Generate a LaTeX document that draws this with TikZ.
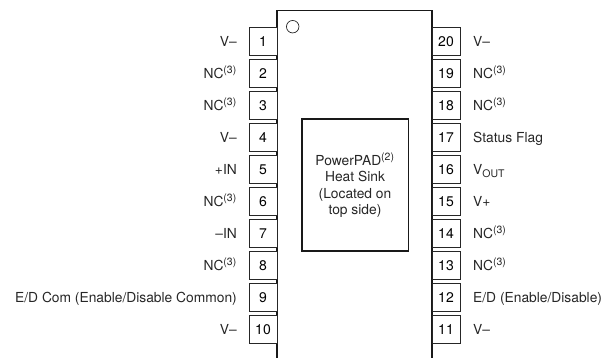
\documentclass[tikz,border=0pt]{standalone}
\usepackage{fontspec}
\setmainfont{TeX Gyre Heros}
\newcommand{\ncsup}{NC\textsuperscript{\fontsize{10.5}{10.5}\selectfont(3)}}
\tikzset{
  x=1pt,y=-1pt,
  pinbox/.style={draw=black!85,line width=0.7pt,minimum width=28pt,minimum height=27.5pt,inner sep=0pt,font=\fontsize{14}{14}\selectfont,fill=white},
  lbl/.style={inner sep=0pt,font=\fontsize{13.8}{13.8}\selectfont,text=black!85},
  thick line/.style={line width=1.5pt,draw=black!90}
}
\begin{document}
\begin{tikzpicture}
\useasboundingbox (0,0) rectangle (613,358);
\draw[thick line] (277,358) -- (277,10.7) -- (432,10.7) -- (432,358);
\node[draw=black!85,line width=0.7pt,circle,minimum size=12.5pt,inner sep=0pt] (dot) at (292.7,26.7) {};
\node[thick line,draw,minimum width=106.5pt,minimum height=131.5pt,inner sep=0pt,align=center,font=\fontsize{13.8}{16.2}\selectfont,text=black!85] (pad) at (355,185)
 {PowerPAD\textsuperscript{\fontsize{10.5}{10.5}\selectfont(2)}\\Heat Sink\\(Located on\\top side)};
\foreach \n/\i/\t in {1/0/V--,2/1/\ncsup,3/2/\ncsup,4/3/V--,5/4/+IN,6/5/\ncsup,7/6/--IN,8/7/\ncsup,9/8/{E/D Com (Enable/Disable Common)},10/9/V--}{
  \node[pinbox] (p\n) at (263,41.3+32*\i) {\n};
  \node[lbl,anchor=base east] (l\n) at (237,46.5+32*\i) {\t};
}
\foreach \n/\i/\t in {20/0/V--,19/1/\ncsup,18/2/\ncsup,17/3/Status Flag,16/4/V\textsubscript{\fontsize{10.5}{10.5}\selectfont OUT},15/5/V+,14/6/\ncsup,13/7/\ncsup,12/8/{E/D (Enable/Disable)},11/9/V--}{
  \node[pinbox] (p\n) at (446,41.3+32*\i) {\n};
  \node[lbl,anchor=base west] (l\n) at (473,46.5+32*\i) {\t};
}
\end{tikzpicture}
\end{document}
